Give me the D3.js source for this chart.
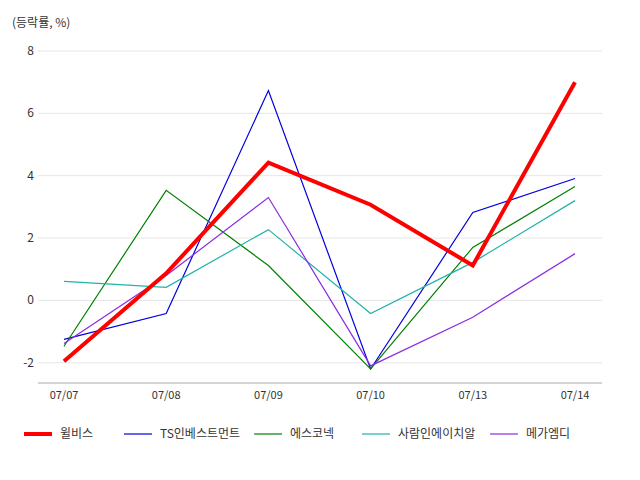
<!DOCTYPE html>
<html><head><meta charset="utf-8">
<script src="https://cdn.jsdelivr.net/npm/d3@7"></script>
<style>body{margin:0;background:#fff;font-family:"Noto Sans CJK KR","Noto Sans",sans-serif;}</style>
</head><body><svg id="chart" width="640" height="480"></svg>
<script>
var dates = ["07/07","07/08","07/09","07/10","07/13","07/14"];
var names = ["윌비스","TS인베스트먼트","에스코넥","사람인에이치알","메가엠디"];
var colors = ["#ff0000","#0000dd","#008000","#20b2aa","#8a2be2"];
var widths = [4,1.2,1.2,1.2,1.2];
var wilbis = [-1.95,0.87,4.42,3.07,1.12,7.0];
var tsInvest = [-1.25,-0.42,6.73,-2.2,2.82,3.91];
var escoNek = [-1.47,3.53,1.12,-2.2,1.7,3.65];
var saramin = [0.61,0.42,2.27,-0.42,1.22,3.2];
var megaMd = [-1.38,0.8,3.3,-2.1,-0.54,1.5];
var yTicks = [-2,0,2,4,6,8];
var series = [wilbis,tsInvest,escoNek,saramin,megaMd];

var svg = d3.select("#chart");
var plotLeft = 38, plotRight = 602, plotTop = 51, plotBottom = 383;
var x = d3.scalePoint().domain(dates).range([64,575]);
var y = d3.scaleLinear().domain([-2.65,8]).range([plotBottom,plotTop]);

svg.append("text").attr("x",12).attr("y",27).attr("font-size",12).attr("fill","#333").text("(등락률, %)");

// grid
svg.selectAll(".grid").data(yTicks).enter().append("line")
  .attr("x1",plotLeft).attr("x2",plotRight).attr("y1",function(d){return y(d);}).attr("y2",function(d){return y(d);})
  .attr("stroke","#e6e6e6");
svg.selectAll(".ylab").data(yTicks).enter().append("text")
  .attr("x",34).attr("y",function(d){return y(d)+4;}).attr("text-anchor","end")
  .attr("font-size",12).attr("fill","#333").text(function(d){return d;});

svg.append("line").attr("x1",plotLeft).attr("x2",plotRight).attr("y1",plotBottom).attr("y2",plotBottom).attr("stroke","#aaa");
svg.selectAll(".xlab").data(dates).enter().append("text")
  .attr("x",function(d){return x(d);}).attr("y",plotBottom+16).attr("text-anchor","middle")
  .attr("font-size",11).attr("fill","#333").text(function(d){return d;});

var line = d3.line().x(function(d,i){return x(dates[i]);}).y(function(d){return y(d);});
// draw thin first, red on top
[1,2,3,4,0].forEach(function(k){
  svg.append("path").attr("d",line(series[k])).attr("fill","none")
    .attr("stroke",colors[k]).attr("stroke-width",widths[k]);
});

// legend
var lx = [24,124,254,362,490];
names.forEach(function(n,k){
  var g = svg.append("g").attr("transform","translate("+lx[k]+",434)");
  g.append("line").attr("x1",0).attr("x2",28).attr("stroke",colors[k]).attr("stroke-width",widths[k]);
  g.append("text").attr("x",36).attr("y",4).attr("font-size",12).attr("fill","#333").text(n);
});
</script></body></html>
